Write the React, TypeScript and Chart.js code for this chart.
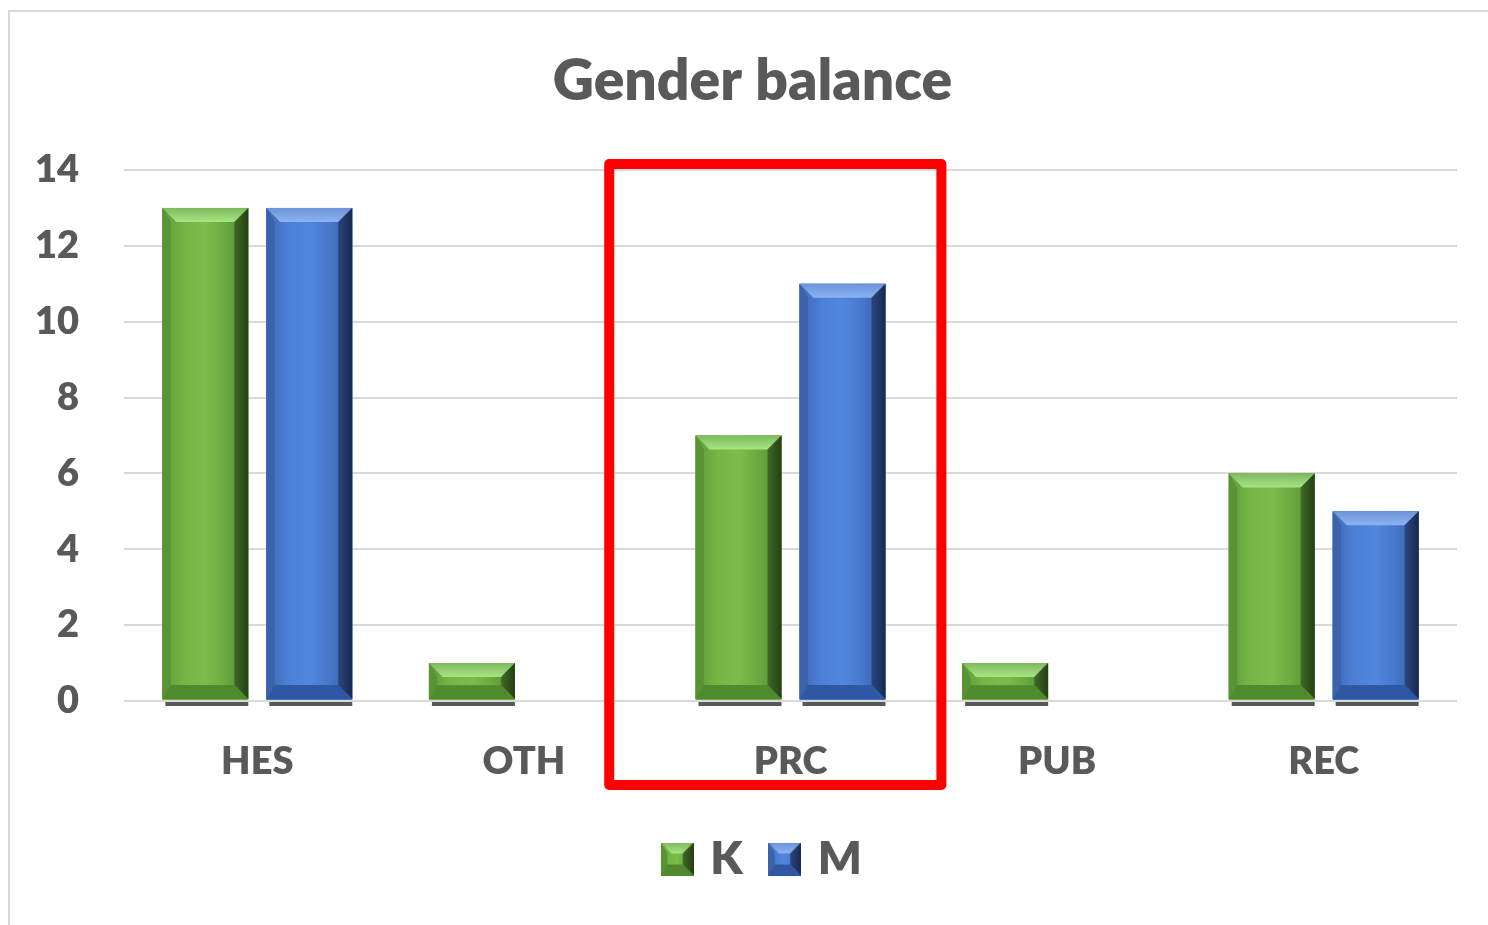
import React, { useEffect, useRef } from "react";
import { Chart, registerables } from "chart.js";

Chart.register(...registerables);

// ---- data ----
const categories = ["HES", "OTH", "PRC", "PUB", "REC"];
const seriesNames = ["K", "M"];
const kValues = [13, 1, 7, 1, 6];
const mValues = [13, 0, 11, 0, 5];
const yMin = 0;
const yMax = 14;
const yStep = 2;
const titleText = "Gender balance";
const highlightCategory = "PRC";

// ---- styles ----
const FONT = "Lato, 'Open Sans', sans-serif";
const WEIGHT = 800;
const TEXT = "#595959";
const GRID = "#d9d9d9";

type Pal = {
  base: string;
  body: string[];
  top: [string, string];
  right: [string, string];
  left: string;
  bottom: string;
};

const greenPal: Pal = {
  base: "#70ad47",
  body: ["#5f9a3a", "#74b645", "#7abd4a", "#6aa83f", "#4f8530"],
  top: ["#7fb95c", "#a5e583"],
  right: ["#3f6a28", "#253f16"],
  left: "#5a9236",
  bottom: "#4f8a2e",
};
const bluePal: Pal = {
  base: "#4472c4",
  body: ["#3f69b6", "#4d7fd6", "#5286de", "#4676c9", "#34599c"],
  top: ["#6d94d8", "#8cb2f3"],
  right: ["#2a4680", "#18294f"],
  left: "#3b62aa",
  bottom: "#2f58a4",
};
const palettes = [greenPal, bluePal];

function poly(ctx: CanvasRenderingContext2D, pts: number[][], fill: any) {
  ctx.beginPath();
  ctx.moveTo(pts[0][0], pts[0][1]);
  for (let i = 1; i < pts.length; i++) ctx.lineTo(pts[i][0], pts[i][1]);
  ctx.closePath();
  ctx.fillStyle = fill;
  ctx.fill();
}

function drawBevel(
  ctx: CanvasRenderingContext2D,
  L: number,
  T: number,
  R: number,
  B: number,
  pal: Pal,
  bev: number
) {
  const w = R - L;
  const h = B - T;
  const b = Math.min(bev, w / 3, h / 2.6);
  const g = ctx.createLinearGradient(L, 0, R, 0);
  pal.body.forEach((c, i) => g.addColorStop(i / (pal.body.length - 1), c));
  ctx.fillStyle = g;
  ctx.fillRect(L, T, w, h);
  const gt = ctx.createLinearGradient(0, T, 0, T + b);
  gt.addColorStop(0, pal.top[0]);
  gt.addColorStop(1, pal.top[1]);
  poly(ctx, [[L, T], [R, T], [R - b, T + b], [L + b, T + b]], gt);
  const gr = ctx.createLinearGradient(R - b, 0, R, 0);
  gr.addColorStop(0, pal.right[0]);
  gr.addColorStop(1, pal.right[1]);
  poly(ctx, [[R, T], [R, B], [R - b, B - b], [R - b, T + b]], gr);
  poly(ctx, [[L, T], [L + b * 0.6, T + b], [L + b * 0.6, B - b], [L, B]], pal.left);
  poly(ctx, [[L, B], [L + b * 0.6, B - b], [R - b, B - b], [R, B]], pal.bottom);
}

function makeLegendImage(pal: Pal): HTMLCanvasElement {
  const c = document.createElement("canvas");
  c.width = 33;
  c.height = 33;
  const ctx = c.getContext("2d")!;
  drawBevel(ctx, 0, 0, 33, 33, pal, 11);
  return c;
}

const bevelPlugin = {
  id: "bevelBars",
  afterDatasetsDraw(chart: any) {
    const ctx = chart.ctx as CanvasRenderingContext2D;
    ctx.save();
    chart.data.datasets.forEach((ds: any, di: number) => {
      const meta = chart.getDatasetMeta(di);
      if (meta.hidden) return;
      meta.data.forEach((el: any, i: number) => {
        const v = ds.data[i];
        if (!v) return;
        const { x, y, base, width } = el.getProps(["x", "y", "base", "width"], true);
        const L = x - width / 2;
        const R = x + width / 2;
        const T = Math.min(y, base);
        const B = Math.max(y, base) - 1;
        ctx.fillStyle = "rgba(70,70,70,0.9)";
        ctx.fillRect(L + 3, base + 2, width - 3, 4);
        drawBevel(ctx, L, T, R, B, palettes[di], 14);
      });
    });
    ctx.restore();
  },
};

// nudges title and legend horizontally, the way the original centres them
const shiftPlugin = {
  id: "shiftBoxes",
  afterLayout(chart: any) {
    if (chart.titleBlock) {
      chart.titleBlock.left += 19;
      chart.titleBlock.right += 19;
    }
    if (chart.legend) {
      chart.legend.left += 31;
      chart.legend.right += 31;
    }
  },
};

const highlightPlugin = {
  id: "highlightBox",
  afterDraw(chart: any) {
    const xs = chart.scales.x;
    const area = chart.chartArea;
    const idx = categories.indexOf(highlightCategory);
    const cx = xs.getPixelForValue(idx);
    const cw = (area.right - area.left) / categories.length;
    const ctx = chart.ctx as CanvasRenderingContext2D;
    ctx.save();
    ctx.strokeStyle = "#ff0000";
    ctx.lineWidth = 10;
    ctx.lineJoin = "round";
    const left = cx - 0.68 * cw;
    const right = cx + 0.566 * cw;
    const top = area.top - 6;
    const bottom = area.bottom + 84;
    ctx.strokeRect(left, top, right - left, bottom - top);
    ctx.restore();
  },
};

export default function App() {
  const ref = useRef<HTMLCanvasElement | null>(null);
  useEffect(() => {
    if (!ref.current) return;
    const images = palettes.map(makeLegendImage);
    const chart = new Chart(ref.current, {
      type: "bar",
      data: {
        labels: categories,
        datasets: [
          {
            label: seriesNames[0],
            data: kValues,
            backgroundColor: greenPal.base,
            borderWidth: 0,
            categoryPercentage: 0.78,
            barPercentage: 0.827,
          },
          {
            label: seriesNames[1],
            data: mValues,
            backgroundColor: bluePal.base,
            borderWidth: 0,
            categoryPercentage: 0.78,
            barPercentage: 0.827,
          },
        ],
      },
      options: {
        animation: false,
        responsive: true,
        maintainAspectRatio: false,
        layout: { padding: { left: 0, right: 31, top: 0, bottom: 33 } },
        scales: {
          x: {
            grid: { display: false, drawTicks: false },
            border: { display: false },
            ticks: {
              color: TEXT,
              padding: 38,
              font: { family: FONT, size: 38, weight: WEIGHT },
            },
            afterFit: (s: any) => {
              s.height = 103;
            },
          },
          y: {
            min: yMin,
            max: yMax,
            grid: { color: GRID, lineWidth: 2, drawTicks: false },
            border: { display: false },
            ticks: {
              stepSize: yStep,
              color: TEXT,
              padding: 45,
              font: { family: FONT, size: 38, weight: WEIGHT },
            },
            afterFit: (s: any) => {
              s.width = 114;
            },
          },
        },
        plugins: {
          title: {
            display: true,
            text: titleText,
            color: TEXT,
            font: { family: FONT, size: 57, weight: WEIGHT, lineHeight: 1.2 },
            padding: { top: 35, bottom: 54.6 },
          },
          legend: {
            position: "bottom",
            labels: {
              usePointStyle: true,
              pointStyleWidth: 20,
              padding: 32,
              color: TEXT,
              font: { family: FONT, size: 46, weight: WEIGHT },
              generateLabels: (ch: any) => {
                const items = Chart.defaults.plugins.legend.labels.generateLabels(ch);
                return items.map((it: any, i: number) => ({ ...it, pointStyle: images[i] }));
              },
            },
          },
          tooltip: { enabled: false },
        },
      },
      plugins: [bevelPlugin, shiftPlugin, highlightPlugin],
    } as any);
    return () => chart.destroy();
  }, []);

  return (
    <div
      style={{
        position: "fixed",
        left: 8,
        top: 10,
        width: 1480,
        height: 915,
        borderLeft: `2px solid ${GRID}`,
        borderTop: `2px solid ${GRID}`,
        boxSizing: "border-box",
        background: "#fff",
      }}
    >
      <canvas ref={ref} />
    </div>
  );
}
